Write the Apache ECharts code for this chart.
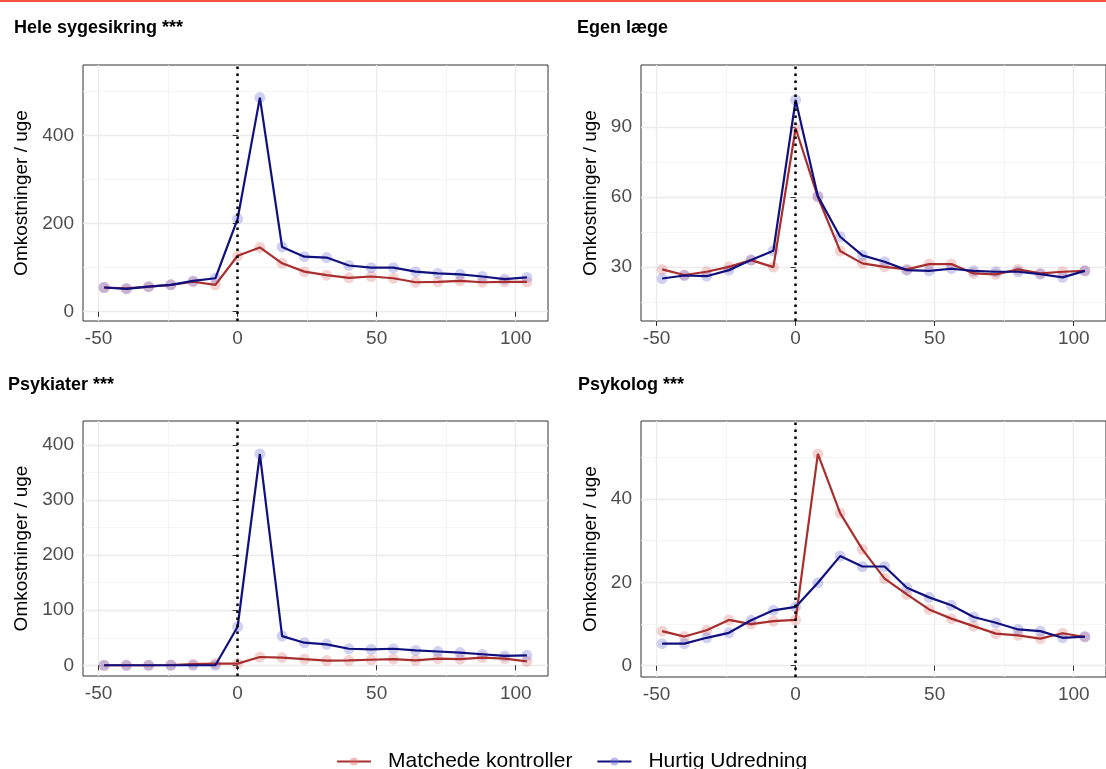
<!DOCTYPE html>
<html>
<head>
<meta charset="utf-8">
<script src="https://cdn.jsdelivr.net/npm/echarts@6/dist/echarts.min.js"></script>
<style>
  html, body { margin: 0; padding: 0; background: #fff; }
  #chart { width: 1106px; height: 769px; }
</style>
</head>
<body>
<div id="chart"></div>
<script>
// uger relativt til start
var weeks = [-48, -40, -32, -24, -16, -8, 0, 8, 16, 24, 32, 40, 48, 56, 64, 72, 80, 88, 96, 104];

var heleKontrol = [55, 53, 57, 61, 68, 61, 127, 146, 110, 91, 83, 77, 80, 76, 67, 68, 70, 67, 68, 68];
var heleHurtig = [55, 52, 57, 61, 70, 76, 211, 486, 147, 125, 123, 105, 100, 100, 91, 87, 85, 80, 74, 78];

var egenKontrol = [29, 26.6, 28, 30.1, 33, 30, 89.5, 60, 36.9, 31.6, 30.1, 29, 31.3, 31.3, 27.3, 26.9, 29, 27.3, 28, 28.4];
var egenHurtig = [25.1, 26.4, 26.1, 28.7, 33, 37, 101.6, 60.4, 43, 35, 32.3, 28.7, 28.4, 29.3, 28.4, 28, 28, 27, 25.6, 28.4];

var psykiaterKontrol = [0, 0, 0, 0.5, 2, 3, 3, 15, 14, 11, 8.5, 9, 10, 11, 9, 12, 11, 14, 12, 7];
var psykiaterHurtig = [0, 0, 0, 0, 0, 0, 70, 384, 53, 41, 38, 30, 29, 30, 27, 25, 23, 20, 17, 18];

var psykologKontrol = [8.3, 7, 8.5, 11, 10, 10.7, 11, 50.8, 36.6, 27.9, 20.9, 17.1, 13.5, 11.3, 9.5, 7.7, 7.3, 6.5, 7.8, 6.9];
var psykologHurtig = [5.3, 5.3, 6.7, 7.9, 10.9, 13.3, 14.1, 19.9, 26.3, 23.8, 23.8, 18.7, 16.4, 14.5, 11.7, 10.3, 8.7, 8.3, 6.7, 7];

var xTicks = [-50, 0, 50, 100];
var xMinor = [-25, 25, 75];

var titles = ['Hele sygesikring ***', 'Egen læge', 'Psykiater ***', 'Psykolog ***'];
var yTicks = [[0, 200, 400], [30, 60, 90], [0, 100, 200, 300, 400], [0, 20, 40]];
var yMinor = [[100, 300, 500], [15, 45, 75, 105], [50, 150, 250, 350], [10, 30, 50]];
var yRange = [[-21, 560], [6.9, 116.6], [-19.5, 444], [-2.7, 58.7]];
var kontrolData = [heleKontrol, egenKontrol, psykiaterKontrol, psykologKontrol];
var hurtigData = [heleHurtig, egenHurtig, psykiaterHurtig, psykologHurtig];

var names = ['Matchede kontroller', 'Hurtig Udredning'];
var lineColors = ['#A92E2E', '#10107F'];
var pointColors = ['rgba(220,110,110,0.38)', 'rgba(100,100,210,0.38)'];

var font = 'Liberation Sans, Arial, sans-serif';

var grids = [
    {left: 83, top: 65, width: 465, height: 256},
    {left: 641, top: 65, width: 476, height: 256},
    {left: 83, top: 421, width: 465, height: 255},
    {left: 641, top: 421, width: 476, height: 256}
];
var titlePos = [[14, 19], [577, 19], [8, 376], [578, 376]];
var nameGaps = [52, 41, 52, 41];

function pairs(vals) {
    return weeks.map(function (w, i) { return [w, vals[i]]; });
}

var xAxes = [], yAxes = [], series = [], titleList = [];

for (var p = 0; p < 4; p++) {
    grids[p].show = true;
    grids[p].borderColor = '#333';
    grids[p].borderWidth = 1;

    titleList.push({
        text: titles[p],
        left: titlePos[p][0],
        top: titlePos[p][1],
        padding: 0,
        textStyle: {fontFamily: font, fontSize: 18, fontWeight: 'bold', color: '#000'}
    });

    // hovedakse x
    xAxes.push({
        type: 'value', gridIndex: p, min: -55.6, max: 111.6,
        axisLine: {show: false},
        axisTick: {show: true, customValues: xTicks, length: 5, lineStyle: {color: '#333'}},
        axisLabel: {customValues: xTicks, color: '#4D4D4D', fontSize: 19, fontFamily: font, margin: 8},
        splitLine: {show: true, lineStyle: {color: '#EBEBEB', width: 1.3}}
    });
    // minor grid x
    xAxes.push({
        type: 'value', gridIndex: p, min: -55.6, max: 111.6,
        axisLine: {show: false},
        axisTick: {show: false, customValues: xMinor},
        axisLabel: {show: false},
        splitLine: {show: true, lineStyle: {color: '#F3F3F3', width: 0.8}}
    });
    // hovedakse y
    yAxes.push({
        type: 'value', gridIndex: p, min: yRange[p][0], max: yRange[p][1],
        name: 'Omkostninger / uge', nameLocation: 'middle', nameGap: nameGaps[p], nameRotate: 90,
        nameTextStyle: {fontFamily: font, fontSize: 19, color: '#000'},
        axisLine: {show: false},
        axisTick: {show: true, customValues: yTicks[p], length: 5, lineStyle: {color: '#333'}},
        axisLabel: {customValues: yTicks[p], color: '#4D4D4D', fontSize: 19, fontFamily: font, margin: 9},
        splitLine: {show: true, lineStyle: {color: '#EBEBEB', width: 1.3}}
    });
    yAxes.push({
        type: 'value', gridIndex: p, min: yRange[p][0], max: yRange[p][1],
        axisLine: {show: false},
        axisTick: {show: false, customValues: yMinor[p]},
        axisLabel: {show: false},
        splitLine: {show: true, lineStyle: {color: '#F3F3F3', width: 0.8}}
    });

    var groups = [kontrolData[p], hurtigData[p]];
    for (var s = 0; s < 2; s++) {
        series.push({
            name: names[s], type: 'line', xAxisIndex: p * 2, yAxisIndex: p * 2,
            data: pairs(groups[s]),
            symbol: 'circle', symbolSize: 9, showSymbol: false,
            itemStyle: {color: lineColors[s]},
            lineStyle: {color: lineColors[s], width: 2.2},
            z: 4, silent: true
        });
    }
    for (var s2 = 0; s2 < 2; s2++) {
        var sc = {
            name: names[s2], type: 'scatter', xAxisIndex: p * 2, yAxisIndex: p * 2,
            data: pairs(groups[s2]),
            symbolSize: 11,
            itemStyle: {color: pointColors[s2]},
            z: 2, silent: true
        };
        if (s2 === 0) {
            sc.markLine = {
                silent: true, symbol: 'none', animation: false,
                label: {show: false},
                lineStyle: {color: '#000', type: [2.5, 4.5], width: 2.5},
                data: [{xAxis: 0}]
            };
        }
        series.push(sc);
    }
}

var myChart = echarts.init(document.getElementById('chart'));
var option = {
    backgroundColor: '#fff',
    animation: false,
    title: titleList,
    grid: grids,
    xAxis: xAxes,
    yAxis: yAxes,
    legend: {
        left: 331, top: 746,
        itemWidth: 34, itemHeight: 10, itemGap: 24,
        data: [
            {name: names[0], itemStyle: {color: 'rgba(220,110,110,0.45)'}},
            {name: names[1], itemStyle: {color: 'rgba(100,100,210,0.45)'}}
        ],
        textStyle: {fontFamily: font, fontSize: 21, color: '#000', padding: [0, 0, 0, 12]}
    },
    graphic: [{
        type: 'rect', left: 0, top: 0,
        shape: {width: 1106, height: 2},
        style: {fill: '#F4503F'}
    }],
    series: series
};
myChart.setOption(option);
</script>
</body>
</html>
